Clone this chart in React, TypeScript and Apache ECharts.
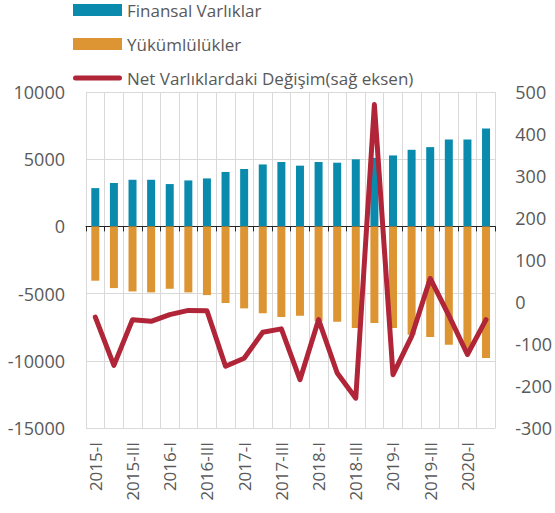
import React, { useEffect, useRef } from "react";
import * as echarts from "echarts";

const categories = [
  "2015-I", "2015-II", "2015-III", "2015-IV",
  "2016-I", "2016-II", "2016-III", "2016-IV",
  "2017-I", "2017-II", "2017-III", "2017-IV",
  "2018-I", "2018-II", "2018-III", "2018-IV",
  "2019-I", "2019-II", "2019-III", "2019-IV",
  "2020-I", "2020-II",
];

const finansalVarliklar = [
  2850, 3230, 3470, 3470, 3150, 3420, 3570, 4050,
  4270, 4610, 4790, 4520, 4790, 4740, 4990, 5100,
  5280, 5700, 5900, 6470, 6470, 7290,
];

const yukumlulukler = [
  -4040, -4590, -4840, -4910, -4640, -4910, -5110, -5700,
  -6100, -6470, -6740, -6650, -7050, -7090, -7560, -7190,
  -7560, -8060, -8230, -8800, -9300, -9800,
];

const netDegisim = [
  -36, -151, -42, -46, -30, -20, -21, -153,
  -134, -72, -64, -185, -42, -169, -229, 470,
  -173, -82, 56, -32, -125, -42,
];

const leftTicks = { min: -15000, max: 10000, interval: 5000 };
const rightTicks = { min: -300, max: 500, interval: 100 };

const FONT = "Open Sans";
const GREY = "#595959";
const RED = "#B02537";
const LINE_ICON = "path://M2.5,0 L46.5,0 A2.5,2.5 0 0 1 46.5,5 L2.5,5 A2.5,2.5 0 0 1 2.5,0 Z";

export default function App() {
  const ref = useRef<HTMLDivElement>(null);
  useEffect(() => {
    if (!ref.current) return;
    const chart = echarts.init(ref.current, null, { renderer: "svg" });
    chart.setOption({
      animation: false,
      textStyle: { fontFamily: FONT, color: GREY },
      legend: {
        orient: "vertical",
        left: 73,
        top: 1,
        padding: 0,
        itemWidth: 49,
        itemHeight: 12,
        itemGap: 16,
        symbolKeepAspect: true,
        textStyle: { fontFamily: FONT, fontSize: 17, color: GREY, lineHeight: 18 },
        data: [
          { name: "Finansal Varlıklar", icon: "rect" },
          { name: "Yükümlülükler", icon: "rect" },
          { name: "Net Varlıklardaki Değişim(sağ eksen)", icon: LINE_ICON, itemStyle: { color: RED } },
        ],
      },
      grid: { left: 86, right: 58, top: 92, bottom: 85, containLabel: false },
      xAxis: [
        {
          type: "category",
          data: categories,
          position: "bottom",
          axisLine: { show: false, onZero: false },
          axisTick: { show: false },
          splitLine: { show: true, interval: 0, lineStyle: { color: "#d9d9d9", width: 1 } },
          axisLabel: {
            interval: 1,
            rotate: 90,
            margin: 14,
            fontSize: 17,
            fontFamily: FONT,
            color: GREY,
          },
        },
        {
          type: "category",
          data: categories,
          position: "bottom",
          axisLine: { show: true, onZero: true, onZeroAxisIndex: 0, lineStyle: { color: "#262626", width: 1 } },
          axisTick: { show: true, interval: 0, length: 5, lineStyle: { color: "#262626" } },
          axisLabel: { show: false },
          splitLine: { show: false },
        },
      ],
      yAxis: [
        {
          type: "value",
          min: leftTicks.min,
          max: leftTicks.max,
          interval: leftTicks.interval,
          axisLine: { show: false },
          axisTick: { show: false },
          splitLine: { show: true, lineStyle: { color: "#d9d9d9", width: 1 } },
          axisLabel: { fontSize: 18, margin: 21, fontFamily: FONT, color: GREY, formatter: (v: number) => String(v) },
        },
        {
          type: "value",
          min: rightTicks.min,
          max: rightTicks.max,
          interval: rightTicks.interval,
          position: "right",
          axisLine: { show: false },
          axisTick: { show: false },
          splitLine: { show: false },
          axisLabel: { fontSize: 18, margin: 20, fontFamily: FONT, color: GREY, formatter: (v: number) => String(v) },
        },
      ],
      series: [
        {
          name: "Finansal Varlıklar",
          type: "bar",
          stack: "a",
          barWidth: 8,
          itemStyle: { color: "#0A8BAE" },
          data: finansalVarliklar,
        },
        {
          name: "Yükümlülükler",
          type: "bar",
          stack: "a",
          barWidth: 8,
          itemStyle: { color: "#DD9433" },
          data: yukumlulukler,
        },
        {
          name: "Net Varlıklardaki Değişim(sağ eksen)",
          type: "line",
          yAxisIndex: 1,
          symbol: "none",
          lineStyle: { color: RED, width: 5, cap: "round", join: "round" },
          itemStyle: { color: RED },
          data: netDegisim,
        },
      ],
    });
    return () => chart.dispose();
  }, []);
  return <div ref={ref} style={{ position: "absolute", left: 0, top: 0, width: 555, height: 513 }} />;
}
